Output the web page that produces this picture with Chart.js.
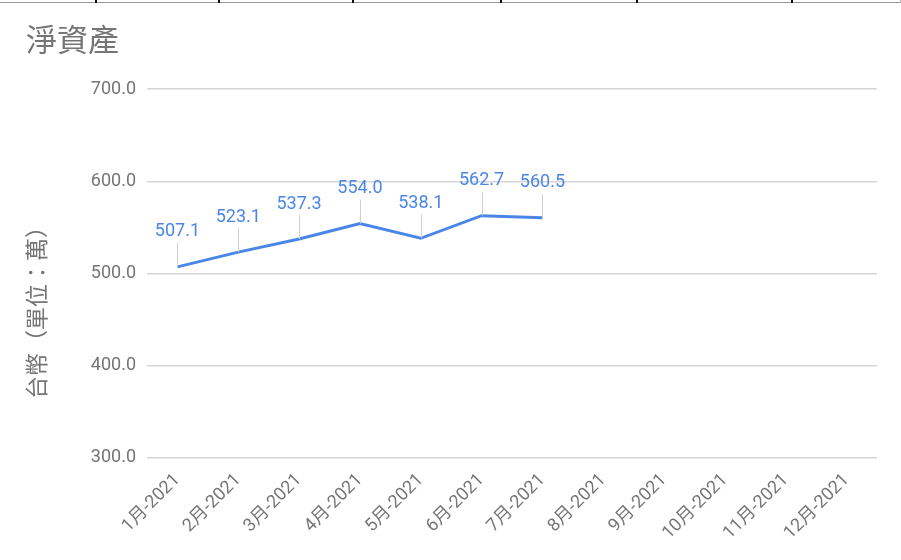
<!DOCTYPE html>
<html>
<head>
<meta charset="utf-8">
<script src="https://cdn.jsdelivr.net/npm/chart.js@4"></script>
<style>
  html, body { margin: 0; padding: 0; background: #fff; }
  #wrap { position: relative; width: 901px; height: 560px; }
  .edge { position: absolute; }
</style>
</head>
<body>
<div id="wrap">
  <canvas id="grafica" width="901" height="560"></canvas>
</div>
<script>
// datos del grafico
const meses = ['1月-2021', '2月-2021', '3月-2021', '4月-2021', '5月-2021', '6月-2021',
               '7月-2021', '8月-2021', '9月-2021', '10月-2021', '11月-2021', '12月-2021'];
const netoValores = [507.1, 523.1, 537.3, 554.0, 538.1, 562.7, 560.5, null, null, null, null, null];
const ticksY = [300, 400, 500, 600, 700];
const tituloY = '台幣（單位：萬）';

const fuente = "Roboto, 'Noto Sans CJK TC', sans-serif";
const gris = '#757575';
const azul = '#4a86e8';

// bordes de la tabla de arriba
const wrap = document.getElementById('wrap');
function linea(x, y, w, h, color) {
    let d = document.createElement('div');
    d.className = 'edge';
    d.style.left = x + 'px'; d.style.top = y + 'px';
    d.style.width = w + 'px'; d.style.height = h + 'px';
    d.style.background = color;
    wrap.appendChild(d);
}
linea(0, 2, 901, 1, '#999');
[95, 218, 352, 500, 636, 791].forEach(x => linea(x, 0, 2, 3, '#111'));
linea(900, 0, 1, 3, '#bbb');

// etiquetas con linea guia
const etiquetas = {
    id: 'etiquetas',
    afterDatasetsDraw(chart) {
        const ctx = chart.ctx;
        const meta = chart.getDatasetMeta(0);
        ctx.save();
        meta.data.forEach((p, i) => {
            const v = netoValores[i];
            if (v === null || v === undefined) return;
            ctx.strokeStyle = '#d0d0d0';
            ctx.lineWidth = 1;
            ctx.beginPath();
            ctx.moveTo(Math.round(p.x) + 0.5, p.y);
            ctx.lineTo(Math.round(p.x) + 0.5, p.y - 24);
            ctx.stroke();
            ctx.fillStyle = azul;
            ctx.font = '18px ' + fuente;
            ctx.textAlign = 'center';
            ctx.textBaseline = 'middle';
            ctx.fillText(v.toFixed(1), p.x, p.y - 35);
        });
        ctx.restore();
    }
};

// titulo del eje Y, centrado en el alto del grafico como en Sheets
const tituloEjeY = {
    id: 'tituloEjeY',
    afterDraw(chart) {
        const ctx = chart.ctx;
        ctx.save();
        ctx.translate(39, 307);
        ctx.rotate(-Math.PI / 2);
        ctx.fillStyle = gris;
        ctx.font = '23px ' + fuente;
        ctx.textAlign = 'center';
        ctx.textBaseline = 'middle';
        ctx.fillText(tituloY, 0, 0);
        ctx.restore();
    }
};

new Chart(document.getElementById('grafica'), {
    type: 'line',
    data: {
        labels: meses,
        datasets: [{
            data: netoValores,
            borderColor: azul,
            borderWidth: 3,
            pointRadius: 0,
            tension: 0,
            spanGaps: false
        }]
    },
    plugins: [etiquetas, tituloEjeY],
    options: {
        responsive: false,
        animation: false,
        layout: { padding: { left: 26, right: 24, top: 25, bottom: 12 } },
        plugins: {
            legend: { display: false },
            tooltip: { enabled: false },
            title: {
                display: true,
                text: '淨資產',
                align: 'start',
                color: gris,
                font: { family: fuente, size: 31, weight: 'normal' },
                padding: { top: 0, bottom: 27 }
            }
        },
        scales: {
            x: {
                offset: true,
                grid: { display: false },
                border: { display: false },
                ticks: {
                    color: gris,
                    maxRotation: 45,
                    minRotation: 45,
                    autoSkip: false,
                    padding: 4,
                    font: { family: fuente, size: 18 }
                }
            },
            y: {
                min: 300,
                max: 700,
                afterBuildTicks(axis) {
                    axis.ticks = ticksY.map(v => ({ value: v }));
                },
                afterFit(axis) {
                    // deja sitio para el titulo del eje
                    axis.width = 121;
                },
                grid: { color: '#d6d6d6', drawTicks: false, lineWidth: 1.5 },
                border: { display: false },
                ticks: {
                    color: gris,
                    padding: 11,
                    font: { family: fuente, size: 18 },
                    callback: v => v.toFixed(1)
                }
            }
        }
    }
});
</script>
</body>
</html>
